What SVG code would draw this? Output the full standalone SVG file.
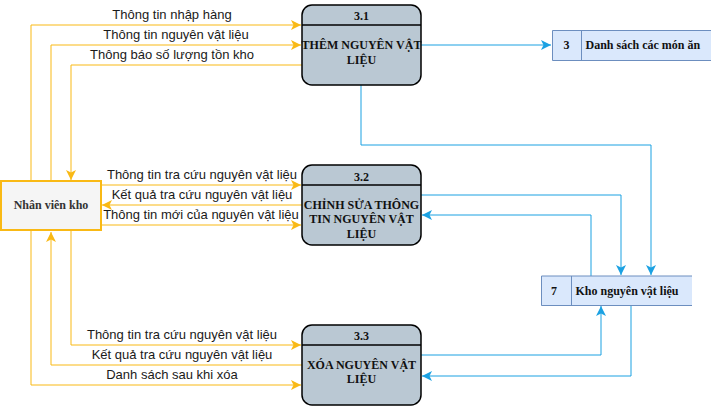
<svg xmlns="http://www.w3.org/2000/svg" width="712" height="406" viewBox="0 0 712 406">
<style>
.proc{fill:#bac8d3;stroke:#000;stroke-width:1.5}
.hdr{stroke:#000;stroke-width:1.5}
.ptxt{font-family:"Liberation Serif","Times New Roman",serif;font-weight:bold;font-size:12px;fill:#111;text-anchor:middle}
.ds{fill:#dae8fc;stroke:none}
.dsl{fill:none;stroke:#6c8ebf;stroke-width:1}
.dtxt{font-family:"Liberation Serif","Times New Roman",serif;font-weight:bold;font-size:12px;fill:#111}
.ent{fill:#f5f5f5;stroke:#f9b915;stroke-width:2}
.etxt{font-family:"Liberation Serif","Times New Roman",serif;font-weight:bold;font-size:12px;fill:#333;text-anchor:middle}
.y{fill:none;stroke:#f9b915;stroke-width:1;marker-end:url(#ay)}
.b{fill:none;stroke:#1ba1e2;stroke-width:1;marker-end:url(#ab)}
.lbl{font-family:"Liberation Sans",Arial,sans-serif;font-size:13px;fill:#1a1a1a;text-anchor:middle}
</style>
<defs>
<marker id="ay" markerUnits="userSpaceOnUse" markerWidth="10" markerHeight="10" refX="8" refY="4" orient="auto" viewBox="0 0 8 8">
<path d="M0,0 L8,4 L0,8 L2,4 Z" fill="#f9b915"/>
</marker>
<marker id="ab" markerUnits="userSpaceOnUse" markerWidth="10" markerHeight="10" refX="8" refY="4" orient="auto" viewBox="0 0 8 8">
<path d="M0,0 L8,4 L0,8 L2,4 Z" fill="#1ba1e2"/>
</marker>
</defs>
<rect width="712" height="406" fill="#fff"/>

<g id="connectors">
<path class="y" d="M31,181 V25 H301"/>
<path class="y" d="M51,181 V45 H301"/>
<path class="y" d="M302,65 H71 V180"/>
<path class="y" d="M102,185 H301"/>
<path class="y" d="M302,205 H102"/>
<path class="y" d="M102,225 H301"/>
<path class="y" d="M71,231 V345 H301"/>
<path class="y" d="M302,365 H51 V232"/>
<path class="y" d="M31,231 V385 H301"/>
<path class="b" d="M421,45 H551"/>
<path class="b" d="M361,85 V145 H651 V275"/>
<path class="b" d="M421,195 H621 V275"/>
<path class="b" d="M591,276 V215 H422"/>
<path class="b" d="M421,355 H601 V306"/>
<path class="b" d="M631,305 V376 H422"/>
<text class="lbl" x="172" y="19">Thông tin nhập hàng</text>
<text class="lbl" x="176" y="39">Thông tin nguyên vật liệu</text>
<text class="lbl" x="172" y="59">Thông báo số lượng tồn kho</text>
<text class="lbl" x="202" y="179">Thông tin tra cứu nguyên vật liệu</text>
<text class="lbl" x="202" y="199">Kết quả tra cứu nguyên vật liệu</text>
<text class="lbl" x="201" y="219">Thông tin mới của nguyên vật liệu</text>
<text class="lbl" x="182" y="339">Thông tin tra cứu nguyên vật liệu</text>
<text class="lbl" x="182" y="359">Kết quả tra cứu nguyên vật liệu</text>
<text class="lbl" x="172" y="379">Danh sách sau khi xóa</text>
</g>

<g id="nhan-vien-kho">
<rect class="ent" x="1" y="181" width="100" height="49"/>
<text class="etxt" x="51" y="209">Nhân viên kho</text>
</g>

<g id="p31">
<rect class="proc" x="302" y="5" width="119" height="80" rx="10" ry="10"/>
<line class="hdr" x1="302" y1="25" x2="421" y2="25"/>
<text class="ptxt" x="361.5" y="20">3.1</text>
<text class="ptxt" x="361.5" y="49">THÊM NGUYÊN VẬT</text>
<text class="ptxt" x="361.5" y="64">LIỆU</text>
</g>

<g id="p32">
<rect class="proc" x="302" y="165" width="119" height="80" rx="10" ry="10"/>
<line class="hdr" x1="302" y1="185" x2="421" y2="185"/>
<text class="ptxt" x="361.5" y="181">3.2</text>
<text class="ptxt" x="361.5" y="208.5">CHỈNH SỬA THÔNG</text>
<text class="ptxt" x="361.5" y="223">TIN NGUYÊN VẬT</text>
<text class="ptxt" x="361.5" y="237.5">LIỆU</text>
</g>

<g id="p33">
<rect class="proc" x="302" y="325" width="119" height="80" rx="10" ry="10"/>
<line class="hdr" x1="302" y1="345" x2="421" y2="345"/>
<text class="ptxt" x="361.5" y="340">3.3</text>
<text class="ptxt" x="361.5" y="369">XÓA NGUYÊN VẬT</text>
<text class="ptxt" x="361.5" y="383">LIỆU</text>
</g>

<g id="ds3">
<rect class="ds" x="552" y="30.5" width="159" height="30"/>
<path class="dsl" d="M711,30.5 H552.5 V60.5 H711 M581.5,30.5 V60.5"/>
<text class="dtxt" x="566.5" y="49" text-anchor="middle">3</text>
<text class="dtxt" x="585.5" y="49">Danh sách các món ăn</text>
</g>

<g id="ds7">
<rect class="ds" x="541" y="276" width="151" height="30"/>
<path class="dsl" d="M692,276 H541.5 V305.5 H692 M571.5,276 V305.5"/>
<text class="dtxt" x="554" y="294.5" text-anchor="middle">7</text>
<text class="dtxt" x="575.5" y="294.5">Kho nguyên vật liệu</text>
</g>
</svg>
